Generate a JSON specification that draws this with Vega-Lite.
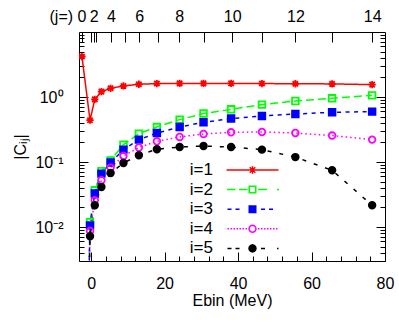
{
  "$schema": "https://vega.github.io/schema/vega-lite/v6.json",
  "width": 306,
  "height": 229,
  "autosize": {"type": "none"},
  "padding": {"left": 79, "top": 32, "right": 14, "bottom": 64},
  "config": {
    "font": "Liberation Sans",
    "view": {"stroke": "black", "strokeWidth": 1},
    "axis": {"domain": false, "grid": false, "tickColor": "black", "tickWidth": 1, "labelColor": "black", "titleColor": "black", "labelFontSize": 16, "titleFontSize": 16, "titleFontWeight": "normal", "labelFont": "Liberation Sans", "titleFont": "Liberation Sans", "labelOverlap": false, "labelFlush": false},
    "legend": {"labelFont": "Liberation Sans", "labelColor": "black"}
  },
  "data": {"values": [
    {"s": "i=1", "j": 0, "E": -2.5, "C": 4.2},
    {"s": "i=1", "j": 1, "E": -0.3, "C": 0.44},
    {"s": "i=1", "j": 2, "E": 1.0, "C": 0.92},
    {"s": "i=1", "j": 3, "E": 2.8, "C": 1.21},
    {"s": "i=1", "j": 4, "E": 5.3, "C": 1.36},
    {"s": "i=1", "j": 5, "E": 8.8, "C": 1.48},
    {"s": "i=1", "j": 6, "E": 13.0, "C": 1.57},
    {"s": "i=1", "j": 7, "E": 17.9, "C": 1.61},
    {"s": "i=1", "j": 8, "E": 24.1, "C": 1.62},
    {"s": "i=1", "j": 9, "E": 30.6, "C": 1.62},
    {"s": "i=1", "j": 10, "E": 38.1, "C": 1.62},
    {"s": "i=1", "j": 11, "E": 46.5, "C": 1.61},
    {"s": "i=1", "j": 12, "E": 55.6, "C": 1.6},
    {"s": "i=1", "j": 13, "E": 65.6, "C": 1.59},
    {"s": "i=1", "j": 14, "E": 76.5, "C": 1.55},
    {"s": "i=2", "j": 0, "E": -2.5, "C": 1e-8},
    {"s": "i=2", "j": 1, "E": -0.3, "C": 0.0119},
    {"s": "i=2", "j": 2, "E": 1.0, "C": 0.0367},
    {"s": "i=2", "j": 3, "E": 2.8, "C": 0.072},
    {"s": "i=2", "j": 4, "E": 5.3, "C": 0.106},
    {"s": "i=2", "j": 5, "E": 8.8, "C": 0.185},
    {"s": "i=2", "j": 6, "E": 13.0, "C": 0.273},
    {"s": "i=2", "j": 7, "E": 17.9, "C": 0.345},
    {"s": "i=2", "j": 8, "E": 24.1, "C": 0.449},
    {"s": "i=2", "j": 9, "E": 30.6, "C": 0.556},
    {"s": "i=2", "j": 10, "E": 38.1, "C": 0.646},
    {"s": "i=2", "j": 11, "E": 46.5, "C": 0.764},
    {"s": "i=2", "j": 12, "E": 55.6, "C": 0.868},
    {"s": "i=2", "j": 13, "E": 65.6, "C": 0.955},
    {"s": "i=2", "j": 14, "E": 76.5, "C": 1.06},
    {"s": "i=3", "j": 0, "E": -2.5, "C": 1e-8},
    {"s": "i=3", "j": 1, "E": -0.3, "C": 0.0106},
    {"s": "i=3", "j": 2, "E": 1.0, "C": 0.0327},
    {"s": "i=3", "j": 3, "E": 2.8, "C": 0.0663},
    {"s": "i=3", "j": 4, "E": 5.3, "C": 0.098},
    {"s": "i=3", "j": 5, "E": 8.8, "C": 0.155},
    {"s": "i=3", "j": 6, "E": 13.0, "C": 0.221},
    {"s": "i=3", "j": 7, "E": 17.9, "C": 0.279},
    {"s": "i=3", "j": 8, "E": 24.1, "C": 0.345},
    {"s": "i=3", "j": 9, "E": 30.6, "C": 0.408},
    {"s": "i=3", "j": 10, "E": 38.1, "C": 0.466},
    {"s": "i=3", "j": 11, "E": 46.5, "C": 0.51},
    {"s": "i=3", "j": 12, "E": 55.6, "C": 0.547},
    {"s": "i=3", "j": 13, "E": 65.6, "C": 0.582},
    {"s": "i=3", "j": 14, "E": 76.5, "C": 0.596},
    {"s": "i=4", "j": 0, "E": -2.5, "C": 1e-8},
    {"s": "i=4", "j": 1, "E": -0.3, "C": 0.0087},
    {"s": "i=4", "j": 2, "E": 1.0, "C": 0.0258},
    {"s": "i=4", "j": 3, "E": 2.8, "C": 0.0524},
    {"s": "i=4", "j": 4, "E": 5.3, "C": 0.082},
    {"s": "i=4", "j": 5, "E": 8.8, "C": 0.124},
    {"s": "i=4", "j": 6, "E": 13.0, "C": 0.167},
    {"s": "i=4", "j": 7, "E": 17.9, "C": 0.208},
    {"s": "i=4", "j": 8, "E": 24.1, "C": 0.243},
    {"s": "i=4", "j": 9, "E": 30.6, "C": 0.27},
    {"s": "i=4", "j": 10, "E": 38.1, "C": 0.286},
    {"s": "i=4", "j": 11, "E": 46.5, "C": 0.29},
    {"s": "i=4", "j": 12, "E": 55.6, "C": 0.279},
    {"s": "i=4", "j": 13, "E": 65.6, "C": 0.255},
    {"s": "i=4", "j": 14, "E": 76.5, "C": 0.221},
    {"s": "i=5", "j": 0, "E": -2.5, "C": 1e-8},
    {"s": "i=5", "j": 1, "E": -0.3, "C": 0.0072},
    {"s": "i=5", "j": 2, "E": 1.0, "C": 0.0216},
    {"s": "i=5", "j": 3, "E": 2.8, "C": 0.0412},
    {"s": "i=5", "j": 4, "E": 5.3, "C": 0.0677},
    {"s": "i=5", "j": 5, "E": 8.8, "C": 0.0966},
    {"s": "i=5", "j": 6, "E": 13.0, "C": 0.127},
    {"s": "i=5", "j": 7, "E": 17.9, "C": 0.157},
    {"s": "i=5", "j": 8, "E": 24.1, "C": 0.17},
    {"s": "i=5", "j": 9, "E": 30.6, "C": 0.176},
    {"s": "i=5", "j": 10, "E": 38.1, "C": 0.17},
    {"s": "i=5", "j": 11, "E": 46.5, "C": 0.155},
    {"s": "i=5", "j": 12, "E": 55.6, "C": 0.119},
    {"s": "i=5", "j": 13, "E": 65.6, "C": 0.0745},
    {"s": "i=5", "j": 14, "E": 76.5, "C": 0.0216}
  ]},
  "layer": [
    {
      "mark": {"type": "line", "strokeWidth": 1.5, "clip": true},
      "encoding": {
        "x": {"field": "E", "type": "quantitative", "scale": {"domain": [-3.3, 80], "nice": false, "zero": false},
              "axis": {"orient": "bottom", "values": [0, 20, 40, 60, 80], "tickSize": -9, "labelPadding": 23.5, "title": "Ebin (MeV)", "titleY": 31, "titleBaseline": "top"}},
        "y": {"field": "C", "type": "quantitative", "scale": {"type": "log", "domain": [0.003, 10], "nice": false},
              "axis": {"orient": "left", "values": [0.01, 0.1, 1], "tickSize": -9, "labelPadding": 25, "labelExpr": "datum.value > 0.5 ? '10⁰' : datum.value > 0.05 ? '10⁻¹' : '10⁻²'", "title": "|Cᵢⱼ|", "titleAngle": 270, "titleBaseline": "middle", "titleX": -59, "titleY": 114.5}},
        "color": {"field": "s", "type": "nominal", "scale": {"domain": ["i=1", "i=2", "i=3", "i=4", "i=5"], "range": ["#ff0000", "#00ff00", "#0000ff", "#ff00ff", "#000000"]}, "legend": null},
        "strokeDash": {"field": "s", "type": "nominal", "scale": {"domain": ["i=1", "i=2", "i=3", "i=4", "i=5"], "range": [[1, 0], [8, 4], [4, 4.5], [1.5, 3], [4, 8]]}, "legend": null},
        "order": {"field": "j", "type": "quantitative"}
      }
    },
    {
      "mark": {"type": "point", "strokeWidth": 1.8, "size": 44, "opacity": 1, "clip": true},
      "encoding": {
        "x": {"field": "E", "type": "quantitative", "scale": {"domain": [-3.3, 80], "nice": false, "zero": false},
              "axis": {"orient": "bottom", "values": [4, 8, 12, 16, 24, 28, 32, 36, 44, 48, 52, 56, 64, 68, 72, 76], "tickSize": -5, "labels": false, "title": null}},
        "y": {"field": "C", "type": "quantitative", "scale": {"type": "log", "domain": [0.003, 10], "nice": false},
              "axis": {"orient": "left", "values": [0.003, 0.004, 0.005, 0.006, 0.007, 0.008, 0.009, 0.02, 0.03, 0.04, 0.05, 0.06, 0.07, 0.08, 0.09, 0.2, 0.3, 0.4, 0.5, 0.6, 0.7, 0.8, 0.9, 2, 3, 4, 5, 6, 7, 8, 9], "tickSize": -5, "labels": false, "title": null}},
        "shape": {"field": "s", "type": "nominal", "scale": {"domain": ["i=1", "i=2", "i=3", "i=4", "i=5"], "range": ["M-1.1,0H1.1M0,-1.1V1.1M-0.8,-0.8L0.8,0.8M-0.8,0.8L0.8,-0.8", "square", "square", "circle", "circle"]}, "legend": null},
        "stroke": {"field": "s", "type": "nominal", "scale": {"domain": ["i=1", "i=2", "i=3", "i=4", "i=5"], "range": ["#ff0000", "#00ff00", "#0000ff", "#ff00ff", "#000000"]}, "legend": null},
        "fill": {"field": "s", "type": "nominal", "scale": {"domain": ["i=1", "i=2", "i=3", "i=4", "i=5"], "range": ["#ff0000", "transparent", "#0000ff", "transparent", "#000000"]}, "legend": null}
      }
    },
    {
      "transform": [{"filter": "false"}],
      "mark": {"type": "point", "strokeWidth": 1.5, "opacity": 1, "clip": true},
      "encoding": {
        "x": {"field": "E", "type": "quantitative", "scale": {"domain": [-3.3, 80], "nice": false, "zero": false},
              "axis": {"orient": "top", "values": [-2.5, 0, 0.7, 1.4, 5.4, 9.1, 13.1, 18.2, 24, 30.6, 38.4, 46.6, 55.6, 65.7, 76.5], "tickSize": -10, "labelPadding": 18, "title": null,
                       "labelExpr": "datum.value < -1 ? '(j=) 0' : datum.value < 0.5 ? '' : datum.value < 1 ? '2' : datum.value < 3 ? '' : datum.value < 7 ? '4' : datum.value < 11 ? '' : datum.value < 15 ? '6' : datum.value < 20 ? '' : datum.value < 27 ? '8' : datum.value < 33 ? '' : datum.value < 42 ? '10' : datum.value < 50 ? '' : datum.value < 60 ? '12' : datum.value < 70 ? '' : '14'",
                       "labelAlign": {"condition": {"test": "datum.value < -1", "value": "right"}, "value": "center"},
                       "labelOffset": {"condition": {"test": "datum.value < -1", "value": 4}, "value": 0}}},
        "y": {"field": "C", "type": "quantitative", "scale": {"type": "log", "domain": [0.003, 10], "nice": false},
              "axis": {"orient": "right", "values": [0.01, 0.1, 1], "tickSize": -9, "labels": false, "title": null}},
        "shape": {"field": "s", "type": "nominal", "scale": {"domain": ["i=1", "i=2", "i=3", "i=4", "i=5"], "range": [
          "M-5.2,0H5.2M-0.75,0H0.75M0,-0.75V0.75M-0.55,-0.55L0.55,0.55M-0.55,0.55L0.55,-0.55",
          "M-5.1,0H-3.4M-2.7,0H-1M1.1,0H2.9M4.9,0H5.3M-0.65,-0.65H0.65V0.65H-0.65Z",
          "M-5,0H-4.2M-3.4,0H-2.6M1.7,0H2.5M3.3,0H4.1M-0.65,-0.65H0.65V0.65H-0.65Z",
          "M-5,0h0.3M-4.4,0h0.3M-3.8,0h0.3M-3.2,0h0.3M-2.6,0h0.3M-2,0h0.3M-1.4,0h0.3M1.1,0h0.3M1.7,0h0.3M2.3,0h0.3M2.9,0h0.3M3.5,0h0.3M4.1,0h0.3M4.7,0h0.3M0.7,0L0.606,0.35L0.35,0.606L0,0.7L-0.35,0.606L-0.606,0.35L-0.7,0L-0.606,-0.35L-0.35,-0.606L0,-0.7L0.35,-0.606L0.606,-0.35Z",
          "M-5,0H-4.2M-3.4,0H-2.6M1.7,0H2.5M4.9,0H5.2M0.7,0L0.606,0.35L0.35,0.606L0,0.7L-0.35,0.606L-0.606,0.35L-0.7,0L-0.606,-0.35L-0.35,-0.606L0,-0.7L0.35,-0.606L0.606,-0.35Z"
        ]},
          "legend": {"orient": "none", "legendX": 129, "legendY": 129.5, "title": null, "labelFontSize": 17, "labelAlign": "right", "labelOffset": -48, "symbolOffset": 36, "symbolSize": 100, "symbolStrokeWidth": 1.5, "rowPadding": 1.6, "padding": 0}},
        "stroke": {"field": "s", "type": "nominal", "scale": {"domain": ["i=1", "i=2", "i=3", "i=4", "i=5"], "range": ["#ff0000", "#00ff00", "#0000ff", "#ff00ff", "#000000"]}},
        "fill": {"field": "s", "type": "nominal", "scale": {"domain": ["i=1", "i=2", "i=3", "i=4", "i=5"], "range": ["#ff0000", "transparent", "#0000ff", "transparent", "#000000"]}}
      }
    },
    {
      "transform": [{"filter": "false"}],
      "mark": {"type": "point", "clip": true},
      "encoding": {
        "x": {"field": "E", "type": "quantitative", "scale": {"domain": [-3.3, 80], "nice": false, "zero": false}, "axis": null},
        "y": {"field": "C", "type": "quantitative", "scale": {"type": "log", "domain": [0.003, 10], "nice": false},
              "axis": {"orient": "right", "values": [0.003, 0.004, 0.005, 0.006, 0.007, 0.008, 0.009, 0.02, 0.03, 0.04, 0.05, 0.06, 0.07, 0.08, 0.09, 0.2, 0.3, 0.4, 0.5, 0.6, 0.7, 0.8, 0.9, 2, 3, 4, 5, 6, 7, 8, 9], "tickSize": -5, "labels": false, "title": null}}
      }
    }
  ],
  "resolve": {"scale": {"shape": "independent", "stroke": "independent", "fill": "independent"}, "axis": {"x": "independent", "y": "independent"}}
}
